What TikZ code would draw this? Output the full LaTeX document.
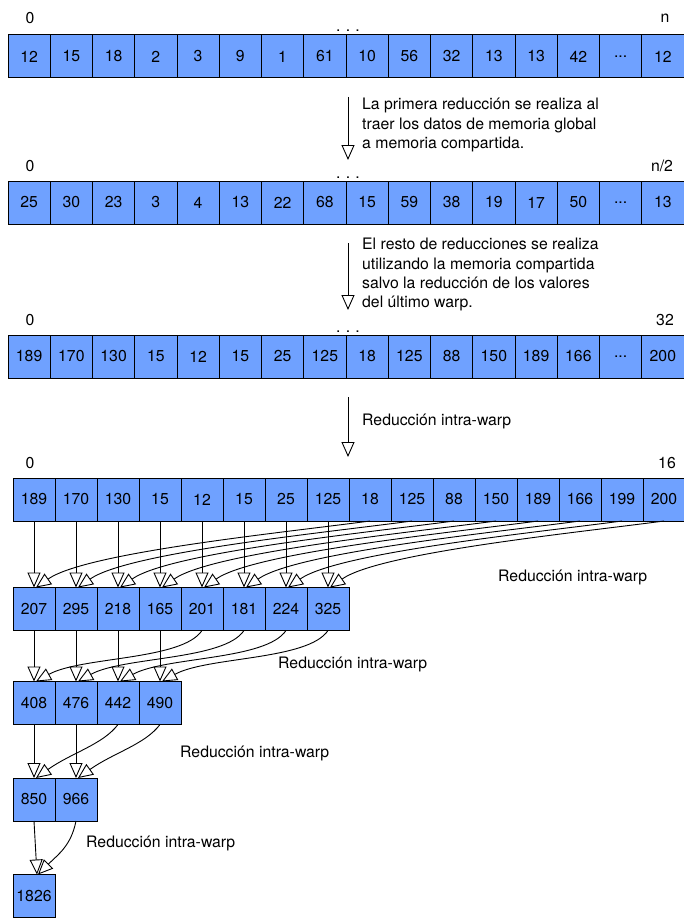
\documentclass[tikz,border=0pt]{standalone}
\usepackage{fontspec}
\setmainfont{TeX Gyre Heros}
\usetikzlibrary{arrows.meta}
\definecolor{cellblue}{RGB}{111,161,255}
\newcommand\txtfont{\fontsize{15.8}{19.3}\selectfont}
\newcommand\celldots{...}
% one row of cells: name, left x, cell width, centre y, cell height, values
\newcommand\cellrow[6]{%
  \foreach \v [count=\i] in {#6}
    \node[cell, minimum width=#3pt, minimum height=#5pt] (#1\i) at ({#2+#3*(\i-0.5)}, #4) {\v};%
}
\begin{document}
\begin{tikzpicture}[x=1pt, y=-1pt,
  cell/.style={draw=black, line width=1pt, fill=cellblue, inner sep=0pt, outer sep=0pt, font=\txtfont},
  lbl/.style={inner sep=0pt, font=\txtfont},
  note/.style={inner sep=0pt, font=\txtfont, align=left, anchor=north west},
  arr/.style={line width=0.9pt, -{Triangle[open, length=15pt, width=13pt, line width=0.9pt]}}]
\useasboundingbox (0,0) rectangle (683,923);

% ---- arrays ----
\cellrow{A}{8}{42.25}{56.5}{43}{12,15,18,2,3,9,1,61,10,56,32,13,13,42,\celldots,12}
\cellrow{B}{8}{42.25}{202.5}{43}{25,30,23,3,4,13,22,68,15,59,38,19,17,50,\celldots,13}
\cellrow{C}{8}{42.25}{356.5}{43}{189,170,130,15,12,15,25,125,18,125,88,150,189,166,\celldots,200}
\cellrow{D}{13}{42}{499.5}{43}{189,170,130,15,12,15,25,125,18,125,88,150,189,166,199,200}
\cellrow{E}{13}{42}{609}{43}{207,295,218,165,201,181,224,325}
\cellrow{F}{13}{42}{703}{43}{408,476,442,490}
\cellrow{G}{13}{42}{799.5}{43}{850,966}
\cellrow{H}{13}{42}{896}{43}{1826}

% ---- index labels ----
\node[lbl] (a0) at (30,18) {0};
\node[lbl] (an) at (665,18) {n};
\node[lbl, anchor=base] (ad) at (348,32) {.\,\,.\,\,.};
\node[lbl] (b0) at (30,166) {0};
\node[lbl] (bn) at (662,166) {n/2};
\node[lbl, anchor=base] (bd) at (348,178) {.\,\,.\,\,.};
\node[lbl] (c0) at (30,320) {0};
\node[lbl] (cn) at (665,320) {32};
\node[lbl, anchor=base] (cd) at (348,332) {.\,\,.\,\,.};
\node[lbl] (d0) at (30,463) {0};
\node[lbl] (dn) at (667,463) {16};

% ---- arrows between the large arrays ----
\coordinate (s1) at (348,97);  \coordinate (t1) at (348,160);
\coordinate (s2) at (348,243); \coordinate (t2) at (348,310);
\coordinate (s3) at (348,397); \coordinate (t3) at (348,457);
\draw[arr] (s1) -- (t1);
\draw[arr] (s2) -- (t2);
\draw[arr] (s3) -- (t3);

\node[note] (n1) at (362,98) {La primera reducción se realiza al\\traer los datos de memoria global\\a memoria compartida.};
\node[note] (n2) at (362,238) {El resto de reducciones se realiza\\utilizando la memoria compartida\\salvo la reducción de los valores\\del último warp.};
\node[lbl, anchor=west] (n3) at (362,421) {Reducción intra-warp};

% ---- tree reduction ----
\foreach \i in {1,...,8} {
  \pgfmathtruncatemacro\j{\i+8}
  \draw[arr] (D\i.south) -- (E\i.north);
  \draw[arr] (D\j.south) .. controls +(-90,12) and +(50,-35) .. ([xshift=2pt]E\i.north);
}
\foreach \i in {1,...,4} {
  \pgfmathtruncatemacro\j{\i+4}
  \draw[arr] (E\i.south) -- (F\i.north);
  \draw[arr] (E\j.south) .. controls +(-20,30) and +(45,-25) .. ([xshift=2pt]F\i.north);
}
\foreach \i in {1,2} {
  \pgfmathtruncatemacro\j{\i+2}
  \draw[arr] (F\i.south) -- (G\i.north);
  \draw[arr] (F\j.south) .. controls +(-15,20) and +(35,-25) .. ([xshift=2pt]G\i.north);
}
\draw[arr] (G1.south) -- ([xshift=3pt]H1.north);
\draw[arr] (G2.south) .. controls +(-5,25) and +(20,-20) .. ([xshift=4pt]H1.north);

\node[lbl, anchor=west] (r1) at (498,577) {Reducción intra-warp};
\node[lbl, anchor=west] (r2) at (278,664) {Reducción intra-warp};
\node[lbl, anchor=west] (r3) at (180,753) {Reducción intra-warp};
\node[lbl, anchor=west] (r4) at (86,843) {Reducción intra-warp};
\end{tikzpicture}
\end{document}
